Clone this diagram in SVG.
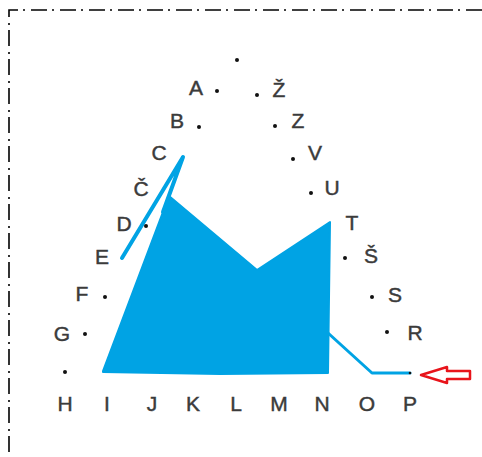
<svg xmlns="http://www.w3.org/2000/svg" width="482" height="457" viewBox="0 0 482 457">
<style>
.lbl{font-family:"Liberation Sans","Open Sans",sans-serif;font-size:21px;fill:#3b3b3b;stroke:#3b3b3b;stroke-width:0.45;text-anchor:middle}
.dot{fill:#111}
.frame{fill:none;stroke:#000;stroke-width:1.6;stroke-dasharray:16 6 2 5}
.blue{fill:none;stroke:#00a3e4;stroke-linecap:round;stroke-linejoin:round}
</style>
<rect width="482" height="457" fill="#fff"/>
<g id="frame">
<path class="frame" d="M482 10 H9 V457"/>
</g>
<g id="drawing">
<polygon id="shape" points="103,371 169,196 257,270 330,222 328,373 220,374 103,372" fill="#00a3e4" stroke="#00a3e4" stroke-width="2" stroke-linejoin="round"/>
</g>
<g id="connectors">
<path class="blue" stroke-width="4" d="M122 258 L183 157 L163 212"/>
<path class="blue" stroke-width="3" d="M328 333 L372 373 L410 373"/>
<polygon id="arrow" points="421,375 447,367 447,371 470,371 470,379 447,379 447,383" fill="#fff" stroke="#e8141b" stroke-width="2.5" stroke-linejoin="round"/>
</g>
<g id="top"><circle class="dot" cx="237" cy="60" r="2"/></g>
<g id="A"><circle class="dot" cx="217" cy="91" r="2"/><text class="lbl" x="196" y="95">A</text></g>
<g id="Zcaron"><circle class="dot" cx="257" cy="95" r="2"/><text class="lbl" x="279" y="97">Ž</text></g>
<g id="B"><circle class="dot" cx="199" cy="127" r="2"/><text class="lbl" x="177" y="128">B</text></g>
<g id="Z"><circle class="dot" cx="275" cy="126" r="2"/><text class="lbl" x="298" y="128">Z</text></g>
<g id="C"><text class="lbl" x="159" y="160">C</text></g>
<g id="V"><circle class="dot" cx="293" cy="159" r="2"/><text class="lbl" x="315" y="160">V</text></g>
<g id="Ccaron"><text class="lbl" x="141" y="196">Č</text></g>
<g id="U"><circle class="dot" cx="311" cy="193" r="2"/><text class="lbl" x="332" y="195">U</text></g>
<g id="D"><circle class="dot" cx="146" cy="226" r="2"/><text class="lbl" x="124" y="231">D</text></g>
<g id="T"><text class="lbl" x="352" y="230">T</text></g>
<g id="E"><text class="lbl" x="102" y="264">E</text></g>
<g id="Scaron"><circle class="dot" cx="345" cy="258" r="2"/><text class="lbl" x="371" y="263">Š</text></g>
<g id="F"><circle class="dot" cx="105" cy="297" r="2"/><text class="lbl" x="82" y="301">F</text></g>
<g id="S"><circle class="dot" cx="372" cy="297" r="2"/><text class="lbl" x="395" y="302">S</text></g>
<g id="G"><circle class="dot" cx="85" cy="334" r="2"/><text class="lbl" x="62" y="341">G</text></g>
<g id="R"><circle class="dot" cx="387" cy="332" r="2"/><text class="lbl" x="415" y="340">R</text></g>
<g id="H"><circle class="dot" cx="65" cy="372" r="2"/><text class="lbl" x="65" y="411">H</text></g>
<g id="I"><text class="lbl" x="107" y="411">I</text></g>
<g id="J"><text class="lbl" x="152" y="411">J</text></g>
<g id="K"><text class="lbl" x="193" y="411">K</text></g>
<g id="L"><text class="lbl" x="236" y="411">L</text></g>
<g id="M"><text class="lbl" x="279" y="411">M</text></g>
<g id="N"><text class="lbl" x="322" y="411">N</text></g>
<g id="O"><text class="lbl" x="367" y="411">O</text></g>
<g id="P"><circle class="dot" cx="410" cy="373" r="1.3"/><text class="lbl" x="410" y="411">P</text></g>
</svg>
